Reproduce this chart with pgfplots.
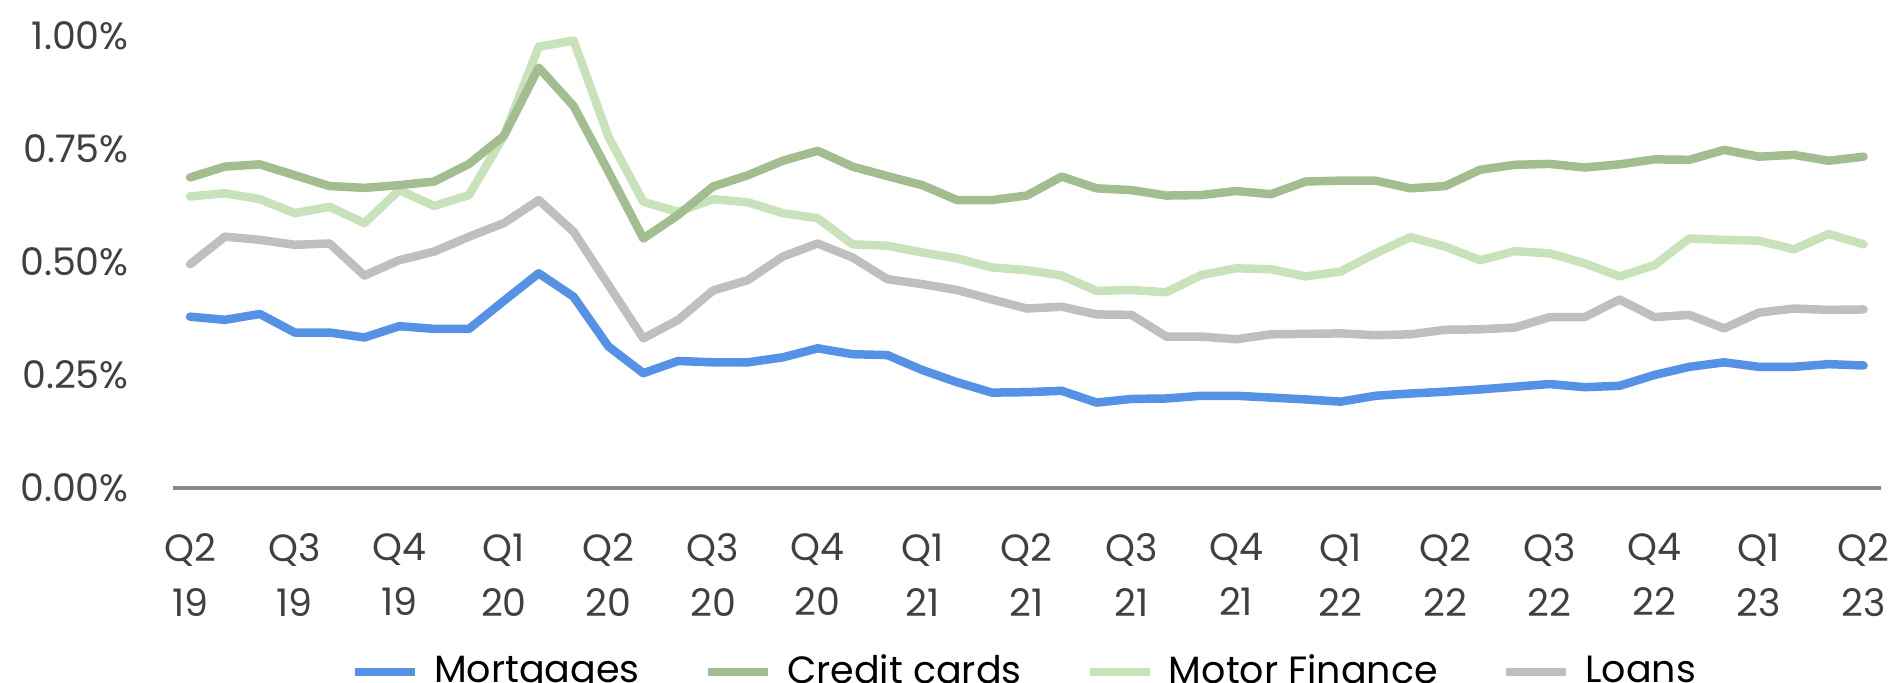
\documentclass[border=0pt]{standalone}
\usepackage{pgfplots}
\pgfplotsset{compat=1.18}
\usepackage{pgfplotstable}
\usepackage{fontspec}
\setmainfont{Poppins}
\definecolor{cMort}{RGB}{85,145,228}
\definecolor{cCred}{RGB}{162,189,143}
\definecolor{cMot}{RGB}{200,227,185}
\definecolor{cLoan}{RGB}{191,191,191}
\definecolor{cAxis}{RGB}{137,137,137}
\definecolor{cTick}{RGB}{64,64,64}
\pgfplotstableread{
x m c f l
0 0.379 0.687 0.645 0.495
1 0.372 0.711 0.652 0.556
2 0.385 0.716 0.639 0.549
3 0.344 0.692 0.608 0.538
4 0.344 0.668 0.622 0.541
5 0.333 0.664 0.586 0.470
6 0.358 0.670 0.659 0.504
7 0.352 0.678 0.624 0.523
8 0.352 0.717 0.648 0.556
9 0.414 0.779 0.779 0.586
10 0.475 0.930 0.976 0.637
11 0.423 0.845 0.990 0.567
12 0.313 0.700 0.777 0.449
13 0.254 0.552 0.633 0.331
14 0.281 0.604 0.611 0.372
15 0.278 0.667 0.639 0.437
16 0.278 0.692 0.632 0.460
17 0.289 0.724 0.608 0.512
18 0.309 0.746 0.597 0.541
19 0.296 0.711 0.539 0.510
20 0.294 0.690 0.536 0.462
21 0.261 0.670 0.521 0.451
22 0.234 0.637 0.508 0.438
23 0.211 0.637 0.488 0.417
24 0.212 0.647 0.482 0.397
25 0.215 0.689 0.470 0.401
26 0.189 0.663 0.436 0.384
27 0.197 0.659 0.438 0.383
28 0.198 0.647 0.433 0.335
29 0.204 0.648 0.471 0.335
30 0.204 0.657 0.486 0.329
31 0.200 0.650 0.484 0.340
32 0.196 0.678 0.468 0.341
33 0.191 0.680 0.479 0.342
34 0.204 0.680 0.519 0.338
35 0.209 0.663 0.555 0.340
36 0.213 0.668 0.534 0.350
37 0.218 0.704 0.504 0.351
38 0.224 0.715 0.524 0.355
39 0.230 0.717 0.519 0.378
40 0.223 0.709 0.497 0.378
41 0.226 0.716 0.468 0.417
42 0.250 0.727 0.493 0.378
43 0.268 0.726 0.552 0.383
44 0.278 0.748 0.549 0.353
45 0.268 0.733 0.547 0.388
46 0.268 0.737 0.528 0.397
47 0.274 0.724 0.562 0.394
48 0.271 0.733 0.539 0.395
}\datatable
\begin{document}
\begin{tikzpicture}
\begin{axis}[
  scale only axis,
  width=512.5pt, height=135.6pt,
  xmin=-0.5, xmax=48.5, ymin=0, ymax=1,
  clip=false,
  axis x line*=bottom,
  axis y line*=left,
  x axis line style={draw=cAxis, line width=1pt, -},
  y axis line style={draw=none},
  major tick length=0pt,
  xtick={0,3,...,48},
  xticklabels={Q2\\19,Q3\\19,Q4\\19,Q1\\20,Q2\\20,Q3\\20,Q4\\20,Q1\\21,Q2\\21,Q3\\21,Q4\\21,Q1\\22,Q2\\22,Q3\\22,Q4\\22,Q1\\23,Q2\\23},
  xticklabel style={align=center, font=\fontsize{11.4}{16.5}\selectfont, text=cTick, inner sep=0pt, anchor=north, yshift=-13.5pt},
  ytick={0,0.25,0.5,0.75,1},
  yticklabels={0.00\%,0.25\%,0.50\%,0.75\%,1.00\%},
  yticklabel style={font=\fontsize{11.4}{13}\selectfont, text=cTick, inner sep=0pt, anchor=east, xshift=-13pt},
  every axis plot/.append style={line width=2.55pt, line cap=round, line join=round},
  legend columns=4,
  legend style={draw=none, fill=none, font=\fontsize{11.4}{13}\selectfont, at={([yshift=-55.2pt]axis description cs:0.5,0)}, anchor=center, inner sep=0pt, /tikz/every even column/.append style={column sep=17.3pt}},
  legend image code/.code={\draw[#1, line width=2.5pt, line cap=butt] (0pt,0pt) -- (18pt,0pt); \path (20.4pt,0pt);},
]
\addplot[color=cMort, forget plot] table[x=x, y=m] {\datatable};
\addplot[color=cMot, forget plot] table[x=x, y=f] {\datatable};
\addplot[color=cCred, forget plot] table[x=x, y=c] {\datatable};
\addplot[color=cLoan, forget plot] table[x=x, y=l] {\datatable};
\addlegendimage{color=cMort}
\addlegendentry{Mortgages}
\addlegendimage{color=cCred}
\addlegendentry{Credit cards}
\addlegendimage{color=cMot}
\addlegendentry{Motor Finance}
\addlegendimage{color=cLoan}
\addlegendentry{Loans}
\end{axis}
\pgfresetboundingbox
\path[use as bounding box] (-51.8pt,-58.5pt) rectangle (516.1pt,146.4pt);
\end{tikzpicture}
\end{document}
